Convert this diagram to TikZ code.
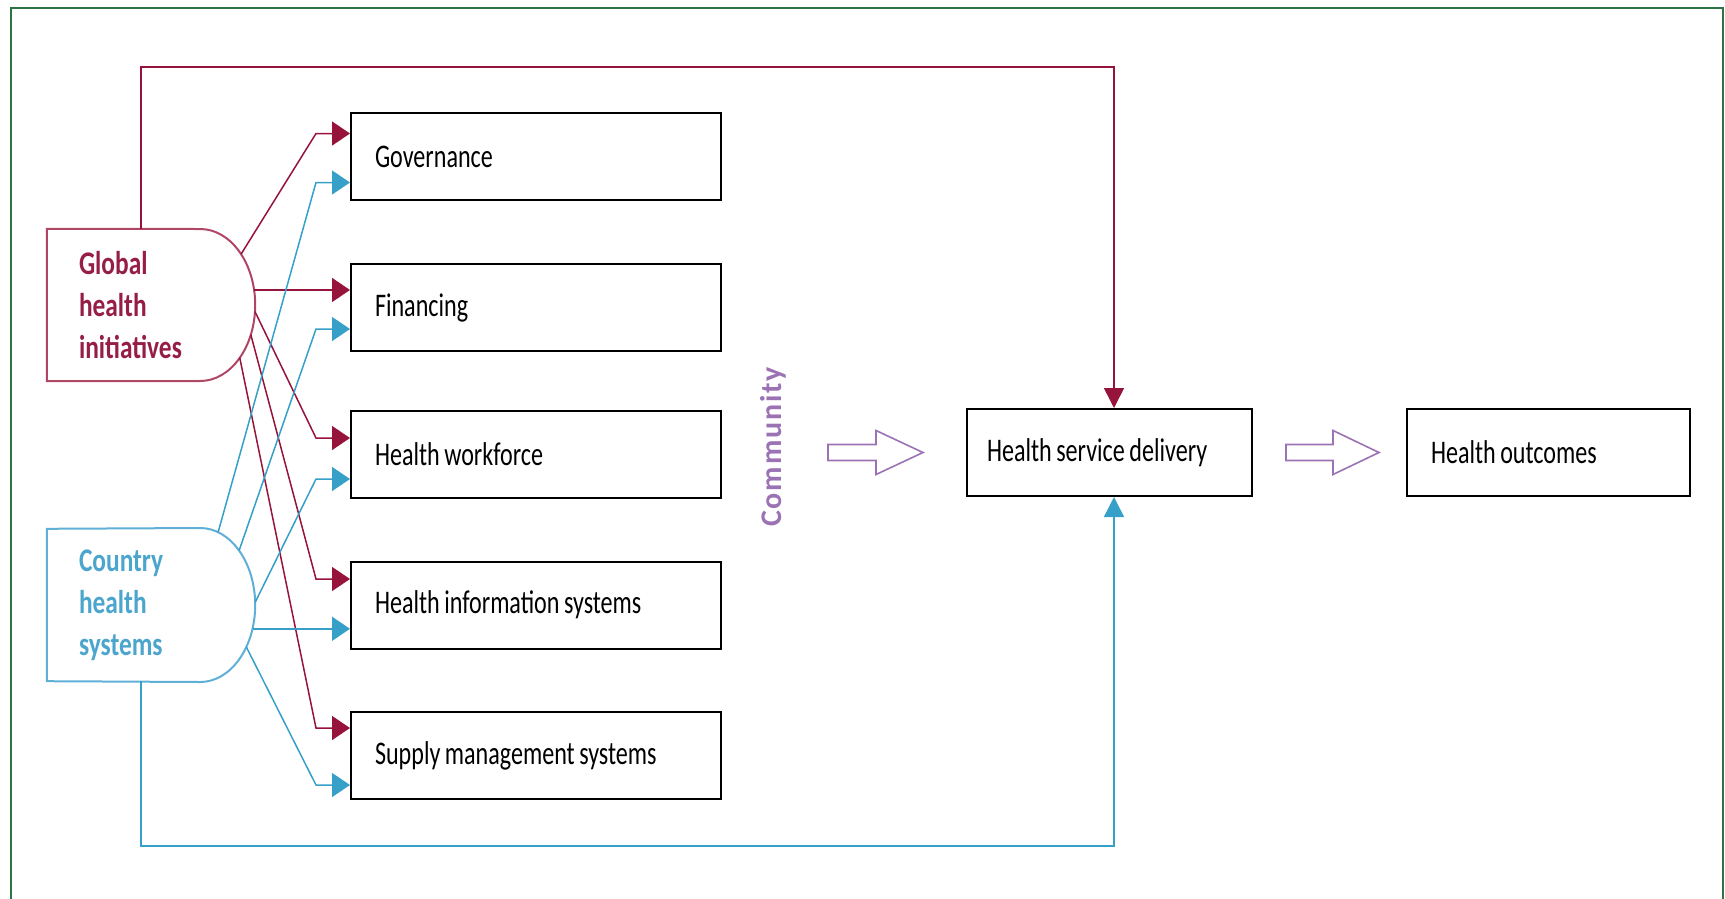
\documentclass[tikz,border=0pt]{standalone}
\usepackage{fontspec}
\setmainfont{Carlito}
\newfontfamily\boxfont[FakeStretch=0.73]{Carlito}
\newfontfamily\sidefont[FakeStretch=0.77]{Carlito}
\newfontfamily\commfont[LetterSpace=6]{Carlito}
\newcommand\wsp{\hspace{4.5pt}}
\usetikzlibrary{arrows.meta,calc}
\definecolor{gred}{RGB}{150,20,60}
\definecolor{gblue}{RGB}{55,160,200}
\definecolor{tred}{RGB}{150,30,70}
\definecolor{tblue}{RGB}{75,165,205}
\definecolor{gbord}{RGB}{175,70,100}
\definecolor{cbord}{RGB}{95,175,215}
\definecolor{cpurple}{RGB}{155,115,180}
\definecolor{framegreen}{RGB}{45,115,70}
\begin{document}
\begin{tikzpicture}[x=1pt,y=-1pt,
  box/.style={draw=black,line width=2pt,minimum height=87pt,inner xsep=24pt,inner ysep=0pt,
    font=\boxfont\fontsize{33}{40}\selectfont},
  side/.style={minimum height=152pt,inner xsep=32pt,inner ysep=0pt,text width=144pt,
    align=left,font=\sidefont\bfseries\fontsize{33}{42}\selectfont},
  rline/.style={draw=gred,line width=1.5pt,-{Triangle[length=18pt,width=24pt]}},
  bline/.style={draw=gblue,line width=1.5pt,-{Triangle[length=18pt,width=24pt]}},
  hollow/.style={draw=cpurple,line width=1.6pt,fill=white}]
\useasboundingbox (0,0) rectangle (1725,898);
% frame
\draw[framegreen,line width=2pt] (11,905) -- (11,8) -- (1723,8) -- (1723,905);

% left shapes
\node[side,text=tred] (glob) at (151,305) {Global\\health\\initiatives};
\node[side,text=tblue] (ctry) at (151,605) {Country\\health\\systems};
\coordinate (gc) at ($(glob.east)+(-55,0)$);
\coordinate (cc) at ($(ctry.east)+(-55,0)$);
\draw[gbord,line width=2pt] (glob.north west) -- ($(gc)+(0,-76)$)
  .. controls ($(gc)+(30.4,-76)$) and ($(gc)+(55,-42)$) .. ($(gc)+(55,0)$)
  .. controls ($(gc)+(55,42)$) and ($(gc)+(30.4,76)$) .. ($(gc)+(0,76)$)
  -- (glob.south west) -- cycle;
\draw[cbord,line width=2pt] (ctry.north west) -- ($(cc)+(0,-77)$)
  .. controls ($(cc)+(30.4,-77)$) and ($(cc)+(55,-42.5)$) .. ($(cc)+(55,0)$)
  .. controls ($(cc)+(55,42.5)$) and ($(cc)+(30.4,77)$) .. ($(cc)+(0,77)$)
  -- (ctry.south west) -- cycle;

% component boxes
\node[box,text width=322pt] (gov) at (536,156.5) {Governance};
\node[box,text width=322pt] (fin) at (536,307.5) {Financing};
\node[box,text width=322pt] (hw)  at (536,454.5) {Health\wsp workforce};
\node[box,text width=322pt] (his) at (536,605) {Health\wsp information\wsp systems};
\node[box,text width=322pt] (sup) at (536,755.5) {Supply\wsp management\wsp systems};

\node[box,text width=245pt,inner xsep=20pt] (hsd) at (1109.5,452.5) {Health\wsp service\wsp delivery};
\node[box,text width=235pt] (ho) at (1548.5,452.5) {Health\wsp outcomes};

\node[rotate=90,text=cpurple,font=\commfont\bfseries\fontsize{30}{34}\selectfont,inner sep=0pt] (comm) at (773,447) {Community};

% start points on arcs
\coordinate (ga1) at ($(gc)+({55*cos(-42)},{76*sin(-42)})$);
\coordinate (ga2) at ($(gc)+({55*cos(-11.4)},{76*sin(-11.4)})$);
\coordinate (ga3) at ($(gc)+({55*cos(5)},{76*sin(5)})$);
\coordinate (ga4) at ($(gc)+({55*cos(23)},{76*sin(23)})$);
\coordinate (ga5) at ($(gc)+({55*cos(44)},{76*sin(44)})$);
\coordinate (cb1) at ($(cc)+({55*cos(-71)},{77*sin(-71)})$);
\coordinate (cb2) at ($(cc)+({55*cos(-45)},{77*sin(-45)})$);
\coordinate (cb3) at ($(cc)+({55*cos(-2)},{77*sin(-2)})$);
\coordinate (cb4) at ($(cc)+({55*cos(18)},{77*sin(18)})$);
\coordinate (cb5) at ($(cc)+({55*cos(33)},{77*sin(33)})$);

% targets
\coordinate (gov-r) at ($(gov.west)+(0,-23)$);
\coordinate (gov-b) at ($(gov.west)+(0,26)$);
\coordinate (fin-b) at ($(fin.west)+(0,21.5)$);
\coordinate (hw-r) at ($(hw.west)+(0,-16.5)$);
\coordinate (hw-b) at ($(hw.west)+(0,24.5)$);
\coordinate (his-r) at ($(his.west)+(0,-26)$);
\coordinate (sup-r) at ($(sup.west)+(0,-27.5)$);
\coordinate (sup-b) at ($(sup.west)+(0,29.5)$);

% connectors
\draw[rline] (ga1) -- ([xshift=-34pt]gov-r) -- (gov-r);
\draw[rline] (ga2) -- (ga2 -| fin.west);
\draw[rline] (ga3) -- ([xshift=-34pt]hw-r) -- (hw-r);
\draw[rline] (ga4) -- ([xshift=-34pt]his-r) -- (his-r);
\draw[rline] (ga5) -- ([xshift=-34pt]sup-r) -- (sup-r);
\draw[bline] (cb1) -- ([xshift=-34pt]gov-b) -- (gov-b);
\draw[bline] (cb2) -- ([xshift=-34pt]fin-b) -- (fin-b);
\draw[bline] (cb3) -- ([xshift=-34pt]hw-b) -- (hw-b);
\draw[bline] (cb4) -- (cb4 -| his.west);
\draw[bline] (cb5) -- ([xshift=-34pt]sup-b) -- (sup-b);

% loops to health service delivery
\coordinate (gtop) at ($(glob.north west)+(94,0)$);
\coordinate (cbot) at ($(ctry.south west)+(94,0)$);
\coordinate (tl) at (1114,67);
\coordinate (bl) at (1114,846);
\draw[gred,line width=1.5pt,-{Triangle[length=20pt,width=20pt]}] (gtop) |- (tl) -- (tl |- hsd.north);
\draw[gblue,line width=1.5pt,-{Triangle[length=20pt,width=20pt]}] (cbot) |- (bl) -- (bl |- hsd.south);

% hollow arrows
\draw[hollow] ($(hsd.west)+(-138,-8)$) -- ++(48,0) -- ++(0,-14) -- ($(hsd.west)+(-43,0)$)
  -- ($(hsd.west)+(-90,22)$) -- ++(0,-14) -- ++(-48,0) -- cycle;
\draw[hollow] ($(ho.west)+(-120,-8)$) -- ++(47,0) -- ++(0,-14) -- ($(ho.west)+(-27,0)$)
  -- ($(ho.west)+(-73,22)$) -- ++(0,-14) -- ++(-47,0) -- cycle;
\end{tikzpicture}
\end{document}
